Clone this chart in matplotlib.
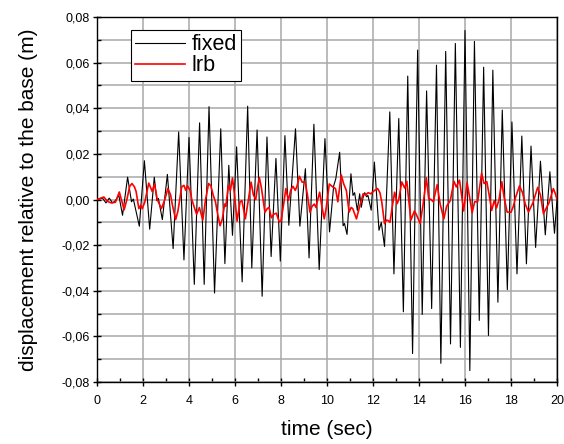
import matplotlib
matplotlib.use("Agg")
import matplotlib.pyplot as plt
from matplotlib.ticker import MultipleLocator, FuncFormatter

plt.rcParams['font.family'] = ['Liberation Sans', 'DejaVu Sans']

# black curve: fixed base (time, displacement)
fixed_t = [0.0, 0.24, 0.39, 0.53, 0.68, 0.80, 0.95, 1.11, 1.33, 1.50, 1.58, 1.84, 2.06, 2.29, 2.49, 2.60, 2.67,
           2.84, 3.06, 3.31, 3.55, 3.78, 4.00, 4.23, 4.46, 4.66, 4.87, 5.11, 5.38, 5.56, 5.73, 5.89, 6.07,
           6.31, 6.55, 6.73, 6.96, 7.18, 7.39, 7.57, 7.78, 7.97, 8.17, 8.34, 8.63, 8.82, 9.06, 9.22, 9.43,
           9.66, 9.91, 10.11, 10.29, 10.38, 10.55, 10.70, 10.76, 10.87, 11.04, 11.13, 11.20, 11.32, 11.42,
           11.49, 11.57, 11.64, 11.72, 11.78, 11.92, 12.06, 12.26, 12.36, 12.50, 12.73, 12.91, 13.12, 13.32,
           13.51, 13.72, 13.94, 14.14, 14.33, 14.55, 14.76, 14.95, 15.16, 15.37, 15.58, 15.80, 16.00, 16.21,
           16.41, 16.62, 16.81, 17.02, 17.21, 17.43, 17.62, 17.84, 18.04, 18.26, 18.47, 18.67, 18.87, 19.07,
           19.28, 19.49, 19.69, 19.89, 20.00]
fixed_y = [0.0, 0.0006, -0.0015, 0.0006, -0.0015, -0.0005, 0.0018, -0.0069, 0.0098, -0.001, 0.0002, -0.0117,
           0.0170, -0.0130, 0.0098, -0.0005, 0.0005, -0.0088, 0.0110, -0.0215, 0.0296, -0.0265, 0.0272,
           -0.0372, 0.0336, -0.0372, 0.0407, -0.0410, 0.0310, -0.0281, 0.0150, -0.0157, 0.0231, -0.0361,
           0.0409, -0.0300, 0.0305, -0.0424, 0.0274, -0.0250, 0.0180, -0.0270, 0.0280, -0.0113, 0.0310,
           -0.0117, 0.0135, -0.0256, 0.0330, -0.0307, 0.0267, -0.0142, 0.0060, 0.0090, 0.0207, -0.0115,
           -0.0105, -0.0153, 0.0113, 0.0018, 0.0030, -0.0048, 0.0025, -0.0034, 0.0010, 0.0030, 0.0012,
           0.0018, -0.0047, 0.0164, -0.0135, -0.0100, -0.0206, 0.0384, -0.0326, 0.0355, -0.0492, 0.0541,
           -0.0675, 0.0655, -0.0504, 0.0476, -0.0478, 0.0589, -0.0718, 0.0649, -0.0633, 0.0684, -0.0648,
           0.0741, -0.0750, 0.0693, -0.0530, 0.0580, -0.0596, 0.0567, -0.0450, 0.0392, -0.0395, 0.0340,
           -0.0326, 0.0278, -0.0282, 0.0234, -0.0210, 0.0168, -0.0155, 0.0122, -0.0148, 0.0]

# red curve: lead rubber bearing (time, displacement)
lrb_t = [0.0, 0.30, 0.45, 0.62, 0.80, 0.97, 1.18, 1.30, 1.42, 1.52, 1.63, 1.70, 1.82, 1.90, 1.97, 2.08, 2.25,
         2.40, 2.50, 2.62, 2.80, 2.95, 3.08, 3.20, 3.27, 3.42, 3.52, 3.68, 3.78, 3.86, 3.93, 4.05, 4.12,
         4.33, 4.45, 4.60, 4.72, 4.85, 4.95, 5.05, 5.15, 5.22, 5.35, 5.45, 5.55, 5.60, 5.71, 5.80, 5.89,
         5.98, 6.09, 6.22, 6.30, 6.45, 6.55, 6.70, 6.80, 6.90, 6.98, 7.06, 7.15, 7.30, 7.40, 7.48, 7.58,
         7.68, 7.80, 7.92, 8.00, 8.13, 8.21, 8.32, 8.42, 8.52, 8.62, 8.70, 8.80, 8.92, 9.05, 9.15, 9.26,
         9.35, 9.45, 9.52, 9.60, 9.68, 9.76, 9.88, 9.96, 10.10, 10.25, 10.37, 10.47, 10.62, 10.72, 10.84,
         10.96, 11.05, 11.12, 11.28, 11.42, 11.57, 11.68, 11.79, 11.90, 12.07, 12.20, 12.30, 12.38, 12.50,
         12.58, 12.65, 12.74, 12.84, 12.94, 13.05, 13.12, 13.25, 13.38, 13.47, 13.55, 13.65, 13.80, 13.88,
         14.05, 14.18, 14.32, 14.42, 14.52, 14.62, 14.79, 14.92, 15.08, 15.20, 15.36, 15.52, 15.62, 15.76,
         15.85, 15.94, 16.09, 16.20, 16.31, 16.42, 16.55, 16.72, 16.83, 16.95, 17.05, 17.16, 17.27, 17.37,
         17.48, 17.60, 17.70, 17.83, 18.00, 18.10, 18.20, 18.37, 18.50, 18.62, 18.76, 18.95, 19.16, 19.28,
         19.41, 19.52, 19.65, 19.84, 19.93, 20.00]
lrb_y = [0.0, 0.0011, -0.0008, -0.0015, -0.0012, 0.0033, -0.0045, 0.0, 0.0058, 0.0070, 0.0055, 0.0035,
         -0.0040, -0.0025, -0.0040, -0.0010, 0.0072, 0.0035, 0.0068, 0.0, -0.0040, 0.0, 0.0048, 0.0020,
         -0.0020, -0.0088, -0.0050, 0.0055, 0.0062, 0.0040, 0.0060, 0.0040, 0.0, -0.0065, -0.0035, -0.0090,
         0.0, 0.0070, 0.0060, 0.0020, -0.0010, -0.0050, -0.0115, -0.0085, -0.0020, -0.0030, 0.0062, 0.0040,
         0.0095, 0.0020, -0.0095, -0.0010, -0.0005, -0.0085, -0.0020, 0.0076, 0.0020, 0.0, 0.0055, 0.0096,
         0.0050, -0.0056, -0.0040, -0.0034, -0.0080, -0.0065, -0.0060, -0.0098, -0.0095, -0.0010, 0.0048,
         -0.0004, 0.0040, 0.0058, 0.0040, 0.0060, 0.0102, 0.0076, 0.0076, 0.0020, -0.0056, -0.0030, -0.0020,
         -0.0035, 0.0, 0.0032, -0.0020, -0.0085, -0.0040, 0.0068, 0.0055, 0.0048, -0.0010, 0.0108, 0.0070,
         0.0040, -0.0055, -0.0035, -0.0040, -0.0085, -0.0030, 0.0025, 0.0020, 0.0030, 0.0025, 0.0040,
         0.0048, 0.0030, -0.0010, -0.0106, -0.0090, -0.0092, -0.0100, -0.0030, 0.0032, -0.0018, 0.0,
         0.0077, 0.0050, 0.0080, 0.0, -0.0090, -0.0050, -0.0065, -0.0105, -0.0020, 0.0095, 0.0005, 0.0,
         -0.0010, 0.0065, -0.0020, -0.0085, -0.0030, -0.0005, 0.0080, 0.0055, 0.0085, 0.0020, -0.0050,
         0.0075, 0.0010, -0.0058, -0.0010, -0.0010, 0.0115, 0.0070, 0.0078, 0.0020, -0.0048, -0.0005,
         -0.0037, 0.0, 0.0078, 0.0010, -0.0055, -0.0056, -0.0030, 0.0010, 0.0060, 0.0030, -0.0020, -0.0055,
         -0.0015, 0.0053, 0.0020, -0.0062, -0.0040, -0.0015, 0.0048, 0.0025, 0.0]

x_ticks = [0, 2, 4, 6, 8, 10, 12, 14, 16, 18, 20]
y_ticks = [-0.08, -0.06, -0.04, -0.02, 0.00, 0.02, 0.04, 0.06, 0.08]

fig = plt.figure(figsize=(5.64, 4.44), dpi=100)
ax = fig.add_axes([0.172, 0.1396, 0.8156, 0.8221])

ax.plot(fixed_t, fixed_y, color='black', lw=0.8, label='fixed', zorder=3)
ax.plot(lrb_t, lrb_y, color='#ff0000', lw=1.2, label='lrb', zorder=4)

ax.set_xlim(0, 20)
ax.set_ylim(-0.08, 0.08)
ax.set_xticks(x_ticks)
ax.set_yticks(y_ticks)
ax.xaxis.set_minor_locator(MultipleLocator(1))
ax.yaxis.set_minor_locator(MultipleLocator(0.01))
ax.yaxis.set_major_formatter(FuncFormatter(lambda v, p: f"{v:.2f}".replace('.', ',').replace('-0,00', '0,00')))
ax.xaxis.set_major_formatter(FuncFormatter(lambda v, p: f"{v:g}"))

ax.grid(True, which='major', axis='x', color='#a8a8a8', lw=1.1, zorder=0)
ax.grid(True, which='both', axis='y', color='#a8a8a8', lw=1.1, zorder=0)
ax.set_axisbelow(True)

ax.tick_params(which='major', direction='inout', length=6, width=1, labelsize=9)
ax.tick_params(axis='x', which='major', pad=6)
ax.tick_params(axis='y', which='major', pad=2)
ax.tick_params(which='minor', direction='in', length=3, width=1)
for s in ax.spines.values():
    s.set_linewidth(1.0)

ax.set_xlabel('time (sec)', fontsize=15, labelpad=10)
ax.set_ylabel('displacement relative to the base (m)', fontsize=15, labelpad=17)

leg = ax.legend(loc='upper left', bbox_to_anchor=(0.074, 0.964), fontsize=15.5, frameon=True,
                fancybox=False, edgecolor='black', framealpha=1, borderpad=0.2, handlelength=2.3,
                handletextpad=0.3, labelspacing=0.0, borderaxespad=0)
leg.get_frame().set_linewidth(0.8)

fig.savefig('out.png', dpi=100)
